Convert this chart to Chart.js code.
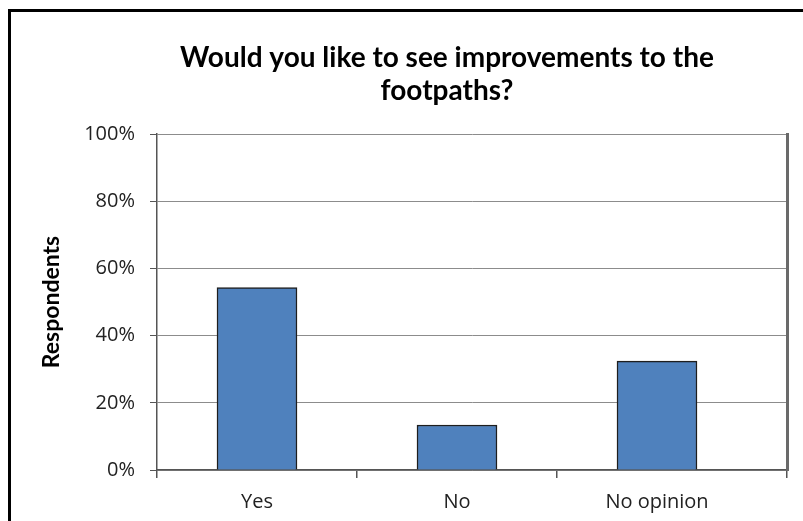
<!DOCTYPE html>
<html>
<head>
<meta charset="utf-8">
<script src="https://cdn.jsdelivr.net/npm/chart.js@4"></script>
<style>
  html, body { margin: 0; padding: 0; background: #fff; }
  #wrap { position: relative; width: 803px; height: 521px; overflow: hidden; }
  #frame { position: absolute; left: 8px; top: 9px; width: 900px; height: 700px;
           border-top: 3px solid #000; border-left: 3px solid #000; }
  canvas { position: absolute; left: 0; top: 0; }
</style>
</head>
<body>
<div id="wrap">
  <div id="frame"></div>
  <canvas id="surveyChart" width="803" height="521"></canvas>
</div>
<script>
const categories = ['Yes', 'No', 'No opinion'];
const shares = [54.3, 13.4, 32.4]; // % of respondents
const yTicks = [0, 20, 40, 60, 80, 100];

const titleFont = 'Lato, "Open Sans", sans-serif';
const tickFont = '"Open Sans", "DejaVu Sans", sans-serif';
const xMax = 2.65;

// the title sits left of the plot centre in the original, so the layout keeps
// a wide left padding; this lets the y axis box reach back to the canvas edge
const widenYAxis = {
    id: 'widenYAxis',
    afterLayout(chart) {
        chart.scales.y.left = 0;
    }
};

const ctx = document.getElementById('surveyChart').getContext('2d');

const surveyChart = new Chart(ctx, {
    type: 'bar',
    data: {
        datasets: [{
            data: categories.map((c, i) => ({ x: i, y: shares[i] })),
            backgroundColor: '#4F81BD',
            borderColor: '#1e1e1e',
            borderWidth: 1.5,
            barThickness: 80
        }]
    },
    plugins: [widenYAxis],
    options: {
        responsive: false,
        animation: false,
        layout: { padding: { left: 107, right: 16, top: 0, bottom: 0 } },
        plugins: {
            legend: { display: false },
            tooltip: { enabled: false },
            title: {
                display: true,
                text: ['Would you like to see improvements to the', 'footpaths?'],
                color: '#000',
                font: { family: titleFont, size: 28, weight: 'bold', lineHeight: 1.18 },
                padding: { top: 41, bottom: 27 }
            }
        },
        scales: {
            x: {
                type: 'linear',
                offset: false,
                min: -0.5,
                max: xMax,
                afterBuildTicks: (scale) => {
                    scale.ticks = [-0.5, 0, 0.5, 1, 1.5, 2, xMax].map(v => ({ value: v }));
                },
                afterFit: (scale) => { scale.height = 51; },
                ticks: {
                    autoSkip: false,
                    maxRotation: 0,
                    padding: 12,
                    color: '#222',
                    font: { family: tickFont, size: 20 },
                    callback: (v) => Number.isInteger(v) ? categories[v] : ''
                },
                grid: {
                    offset: false,
                    drawOnChartArea: false,
                    tickColor: (c) => (c.tick && Number.isInteger(c.tick.value)) ? 'rgba(0,0,0,0)' : '#555',
                    tickLength: 8,
                    lineWidth: 1.5
                },
                border: { color: '#555', width: 1.5 }
            },
            y: {
                min: 0,
                max: 100,
                afterBuildTicks: (scale) => {
                    scale.ticks = yTicks.map(v => ({ value: v }));
                },
                afterFit: (scale) => { scale.width = 50; },
                ticks: {
                    padding: 15,
                    color: '#222',
                    font: { family: tickFont, size: 20 },
                    callback: (v) => v + '%'
                },
                grid: {
                    color: '#8c8c8c',
                    tickColor: '#555',
                    tickLength: 7,
                    lineWidth: 1
                },
                border: { color: '#555', width: 1.5 },
                title: {
                    display: true,
                    text: 'Respondents',
                    color: '#000',
                    font: { family: titleFont, size: 23, weight: 'bold', lineHeight: 1.2 },
                    padding: { top: 38, bottom: 0 }
                }
            },
            // right edge of the plot frame
            yRight: {
                position: 'right',
                min: 0,
                max: 100,
                afterFit: (scale) => { scale.width = 0; },
                ticks: { display: false },
                grid: { display: false },
                border: { display: true, color: '#6a6a6a', width: 3 }
            }
        }
    }
});
</script>
</body>
</html>
